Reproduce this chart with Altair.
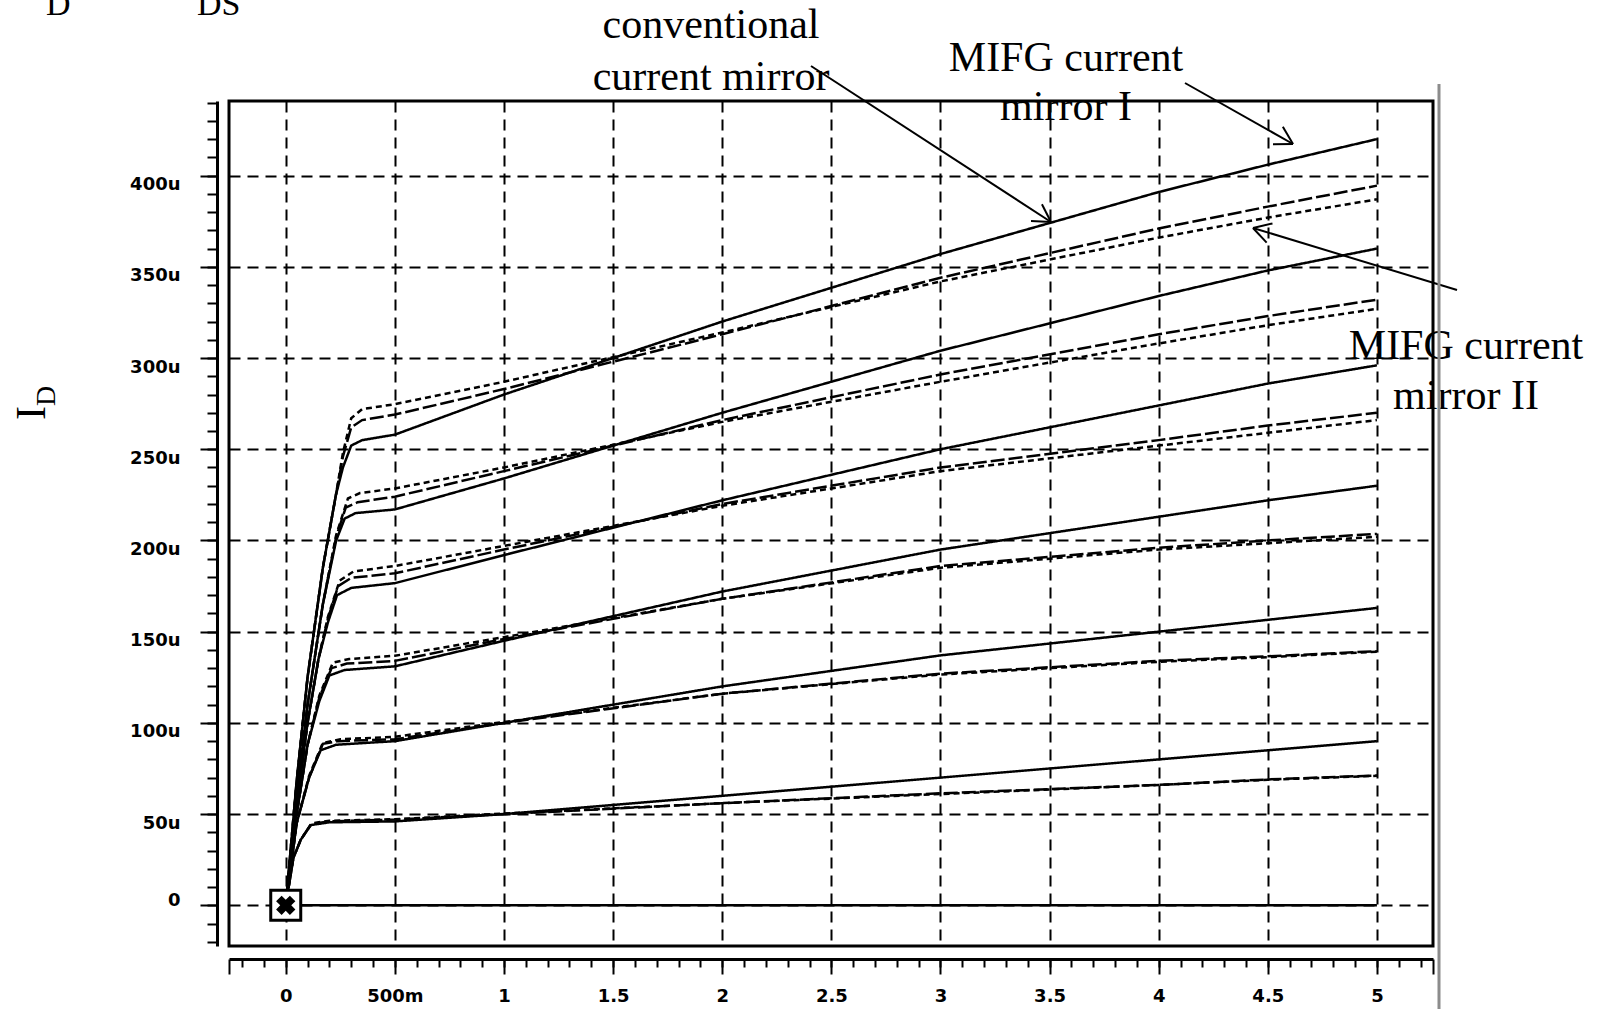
import math
import altair as alt
import pandas as pd

# ---------------- axis ticks ----------------
X_DOMAIN = [-0.26, 5.257]
Y_DOMAIN = [-22.3, 440.9]
X_TICK_VALUES = [0, 0.5, 1, 1.5, 2, 2.5, 3, 3.5, 4, 4.5, 5]
X_TICK_LABELS = ["0", "500m", "1", "1.5", "2", "2.5", "3", "3.5", "4", "4.5", "5"]
Y_TICK_VALUES = [0, 50, 100, 150, 200, 250, 300, 350, 400]
Y_TICK_LABELS = ["0", "50u", "100u", "150u", "200u", "250u", "300u", "350u", "400u"]
X_MINOR = [round(-0.2 + 0.1 * i, 2) for i in range(55)]
Y_MINOR = [-20 + 10 * i for i in range(47)]

# ---------------- curve data (VDS in V, ID in uA) ----------------
VDS_SAT = [0.5, 1, 2, 3, 4, 4.5, 5]

G1_TRI_X = [0, 0.05, 0.1, 0.17, 0.23]
G1_TRI_Y = [0, 68, 125, 185, 225]
G2_TRI_X = [0, 0.05, 0.1, 0.17]
G2_TRI_Y = [0, 60, 110, 165]
G3_TRI_X = [0, 0.05, 0.1, 0.15]
G3_TRI_Y = [0, 55, 100, 135]
G4_TRI_X = [0, 0.05, 0.1]
G4_TRI_Y = [0, 50, 88]
G5_TRI_X = [0, 0.05]
G5_TRI_Y = [0, 45]
G6_TRI_X = [0, 0.035]
G6_TRI_Y = [0, 26]

G1_MIFG1_KNEE_X = [0.262, 0.30, 0.35]
G1_MIFG1_KNEE_Y = [240, 252, 255]
G1_MIFG1_SAT = [258, 280, 320, 357, 391, 406, 420]
G1_CONV_KNEE_X = [0.262, 0.30, 0.35]
G1_CONV_KNEE_Y = [246, 262, 266]
G1_CONV_SAT = [269, 283, 313, 344, 371, 383, 394.5]
G1_MIFG2_KNEE_X = [0.262, 0.30, 0.35]
G1_MIFG2_KNEE_Y = [248, 267, 272]
G1_MIFG2_SAT = [274.7, 287, 314, 342, 366, 377, 387]

G2_MIFG1_KNEE_X = [0.231, 0.27, 0.32]
G2_MIFG1_KNEE_Y = [200, 212, 215]
G2_MIFG1_SAT = [217, 234, 270, 304, 334, 348, 360]
G2_CONV_KNEE_X = [0.231, 0.275, 0.33]
G2_CONV_KNEE_Y = [202, 218, 221]
G2_CONV_SAT = [224, 238, 266, 291, 313, 323, 332]
G2_MIFG2_KNEE_X = [0.231, 0.285, 0.34]
G2_MIFG2_KNEE_Y = [203, 223, 226]
G2_MIFG2_SAT = [228.5, 240, 265, 287, 308, 318, 327]

G3_MIFG1_KNEE_X = [0.193, 0.235, 0.30]
G3_MIFG1_KNEE_Y = [155, 170, 174]
G3_MIFG1_SAT = [176.6, 192, 222, 250, 274, 286, 296]
G3_CONV_KNEE_X = [0.193, 0.24, 0.30]
G3_CONV_KNEE_Y = [157, 175, 179.5]
G3_CONV_SAT = [182, 195, 220, 240, 255, 263, 270]
G3_MIFG2_KNEE_X = [0.193, 0.247, 0.31]
G3_MIFG2_KNEE_Y = [158, 178, 183]
G3_MIFG2_SAT = [186, 197, 219, 238, 252, 259, 266]

G4_MIFG1_KNEE_X = [0.154, 0.20, 0.27]
G4_MIFG1_KNEE_Y = [112, 126, 129]
G4_MIFG1_SAT = [131, 145, 172, 195, 213, 222, 230]
G4_CONV_KNEE_X = [0.154, 0.21, 0.28]
G4_CONV_KNEE_Y = [114, 130, 132.5]
G4_CONV_SAT = [134, 146, 168, 186, 196, 200, 203.6]
G4_MIFG2_KNEE_X = [0.154, 0.216, 0.29]
G4_MIFG2_KNEE_Y = [115, 133, 135]
G4_MIFG2_SAT = [136.8, 147, 168, 185, 195, 198.5, 202]

G5_MIFG1_KNEE_X = [0.107, 0.16, 0.23]
G5_MIFG1_KNEE_Y = [70, 85, 88]
G5_MIFG1_SAT = [90, 100, 120, 137, 150, 156.5, 163]
G5_CONV_KNEE_X = [0.107, 0.17, 0.24]
G5_CONV_KNEE_Y = [70, 88.5, 90]
G5_CONV_SAT = [91, 100, 116, 127, 134, 136.5, 139.3]
G5_MIFG2_KNEE_X = [0.107, 0.17, 0.25]
G5_MIFG2_KNEE_Y = [71, 89, 91]
G5_MIFG2_SAT = [92.4, 100.5, 116, 126.5, 133.5, 136, 139]

G6_MIFG1_KNEE_X = [0.069, 0.115, 0.20]
G6_MIFG1_KNEE_Y = [36, 44, 45.5]
G6_MIFG1_SAT = [46, 50, 60, 70, 80, 85, 90]
G6_CONV_KNEE_X = [0.069, 0.115, 0.20]
G6_CONV_KNEE_Y = [36, 44.5, 46]
G6_CONV_SAT = [47, 50, 56, 61.4, 66, 69, 71.2]
G6_MIFG2_KNEE_X = [0.069, 0.12, 0.20]
G6_MIFG2_KNEE_Y = [36, 45, 46.3]
G6_MIFG2_SAT = [47.2, 50.3, 56, 61, 66, 68.8, 71]

ZERO_X = [0, 5]
ZERO_Y = [0, 0]

MARKER_X = [0]
MARKER_Y = [0]

# ---------------- annotations (pixel positions relative to plot area) ----------------
ANNOT_TEXT = ["conventional", "current mirror", "MIFG current", "mirror I", "MIFG current", "mirror II"]
ANNOT_PX = [482, 482, 837, 837, 1237, 1237]
ANNOT_PY = [-63, -11, -30, 19, 258, 308]
ARROW_TAIL = [(582, -35), (956, -18), (1228, 189)]
ARROW_TIP = [(822, 121), (1064, 43), (1024, 127)]

PLOT_LEFT, PLOT_TOP = 229, 101
PLOT_W, PLOT_H = 1204, 845

# ---------------- build table ----------------
rows = []
def add_curve(cid, style, xs, ys):
    for xv, yv in zip(xs, ys):
        rows.append({"curve": cid, "style": style, "vds": xv, "id": yv})

groups = [
    ("G1", G1_TRI_X, G1_TRI_Y,
     [(G1_MIFG1_KNEE_X, G1_MIFG1_KNEE_Y, G1_MIFG1_SAT, "solid"),
      (G1_CONV_KNEE_X, G1_CONV_KNEE_Y, G1_CONV_SAT, "dash"),
      (G1_MIFG2_KNEE_X, G1_MIFG2_KNEE_Y, G1_MIFG2_SAT, "short")]),
    ("G2", G2_TRI_X, G2_TRI_Y,
     [(G2_MIFG1_KNEE_X, G2_MIFG1_KNEE_Y, G2_MIFG1_SAT, "solid"),
      (G2_CONV_KNEE_X, G2_CONV_KNEE_Y, G2_CONV_SAT, "dash"),
      (G2_MIFG2_KNEE_X, G2_MIFG2_KNEE_Y, G2_MIFG2_SAT, "short")]),
    ("G3", G3_TRI_X, G3_TRI_Y,
     [(G3_MIFG1_KNEE_X, G3_MIFG1_KNEE_Y, G3_MIFG1_SAT, "solid"),
      (G3_CONV_KNEE_X, G3_CONV_KNEE_Y, G3_CONV_SAT, "dash"),
      (G3_MIFG2_KNEE_X, G3_MIFG2_KNEE_Y, G3_MIFG2_SAT, "short")]),
    ("G4", G4_TRI_X, G4_TRI_Y,
     [(G4_MIFG1_KNEE_X, G4_MIFG1_KNEE_Y, G4_MIFG1_SAT, "solid"),
      (G4_CONV_KNEE_X, G4_CONV_KNEE_Y, G4_CONV_SAT, "dash"),
      (G4_MIFG2_KNEE_X, G4_MIFG2_KNEE_Y, G4_MIFG2_SAT, "short")]),
    ("G5", G5_TRI_X, G5_TRI_Y,
     [(G5_MIFG1_KNEE_X, G5_MIFG1_KNEE_Y, G5_MIFG1_SAT, "solid"),
      (G5_CONV_KNEE_X, G5_CONV_KNEE_Y, G5_CONV_SAT, "dash"),
      (G5_MIFG2_KNEE_X, G5_MIFG2_KNEE_Y, G5_MIFG2_SAT, "short")]),
    ("G6", G6_TRI_X, G6_TRI_Y,
     [(G6_MIFG1_KNEE_X, G6_MIFG1_KNEE_Y, G6_MIFG1_SAT, "solid"),
      (G6_CONV_KNEE_X, G6_CONV_KNEE_Y, G6_CONV_SAT, "dash"),
      (G6_MIFG2_KNEE_X, G6_MIFG2_KNEE_Y, G6_MIFG2_SAT, "short")]),
]
for gname, tx, ty, curves in groups:
    for kx, ky, sat, style in curves:
        add_curve(f"{gname}-{style}", style, list(tx) + list(kx) + VDS_SAT, list(ty) + list(ky) + list(sat))
add_curve("zero", "solid", ZERO_X, ZERO_Y)
df = pd.DataFrame(rows)


def label_expr(values, labels):
    expr = "''"
    for v, l in reversed(list(zip(values, labels))):
        expr = f"abs(datum.value - ({v})) < 1e-6 ? '{l}' : ({expr})"
    return expr


LABEL_FONT = "DejaVu Sans"
x_scale = alt.Scale(domain=X_DOMAIN, nice=False, zero=False)
y_scale = alt.Scale(domain=Y_DOMAIN, nice=False, zero=False)

x_major = alt.Axis(
    values=[X_DOMAIN[0]] + X_TICK_VALUES + [X_DOMAIN[1]], orient="bottom", offset=13,
    domainColor="black", domainWidth=3, tickColor="black", tickWidth=2, tickSize=15,
    labelExpr=label_expr(X_TICK_VALUES, X_TICK_LABELS), labelFont=LABEL_FONT,
    labelFontSize=18, labelFontWeight="bold", labelColor="black", labelPadding=13,
    labelBaseline="top", labelFlush=False, labelOverlap=False,
    grid=True, gridColor="black", gridDash=[11, 7], gridWidth=2,
    gridOpacity={"condition": {"test": "datum.value < -0.01 || datum.value > 5.01", "value": 0}, "value": 1},
    title=None,
)
y_major = alt.Axis(
    values=Y_TICK_VALUES, orient="left", offset=12,
    domainColor="black", domainWidth=3, tickColor="black", tickWidth=2, tickSize=17,
    labelExpr=label_expr(Y_TICK_VALUES, Y_TICK_LABELS), labelFont=LABEL_FONT,
    labelFontSize=18, labelFontWeight="bold", labelColor="black", labelPadding=20,
    labelBaseline={"condition": {"test": "datum.value == 0", "value": "alphabetic"}, "value": "top"},
    labelFlush=False, labelOverlap=False,
    grid=True, gridColor="black", gridDash=[11, 7], gridWidth=2,
    title=None,
)
x_minor = alt.Axis(values=X_MINOR, orient="bottom", offset=13, domain=False, labels=False,
                   tickColor="black", tickWidth=2, tickSize=8, grid=False, title=None)
y_minor = alt.Axis(values=Y_MINOR, orient="left", offset=12, domain=False, labels=False,
                   tickColor="black", tickWidth=2, tickSize=10, grid=False, title=None)

lines = alt.Chart(df).mark_line(strokeWidth=2.5, color="black").encode(
    x=alt.X("vds:Q", scale=x_scale, axis=x_major),
    y=alt.Y("id:Q", scale=y_scale, axis=y_major),
    detail="curve:N",
    strokeDash=alt.StrokeDash("style:N", scale=alt.Scale(domain=["solid", "dash", "short"],
                                                         range=[[1, 0], [14, 4], [6, 4]]), legend=None),
)
minor = alt.Chart(df).mark_line(opacity=0).encode(
    x=alt.X("vds:Q", scale=x_scale, axis=x_minor),
    y=alt.Y("id:Q", scale=y_scale, axis=y_minor),
    detail="curve:N",
)
mdf = pd.DataFrame({"vds": MARKER_X, "id": MARKER_Y})
marker_box = alt.Chart(mdf).mark_point(shape="square", size=900, filled=True, fill="white",
                                       stroke="black", strokeWidth=3, opacity=1).encode(
    x=alt.X("vds:Q", scale=x_scale, axis=None), y=alt.Y("id:Q", scale=y_scale, axis=None))
marker_x = alt.Chart(mdf).mark_point(shape="cross", angle=45, size=380, filled=True,
                                     color="black", opacity=1).encode(
    x=alt.X("vds:Q", scale=x_scale, axis=None), y=alt.Y("id:Q", scale=y_scale, axis=None))

one = pd.DataFrame({"k": [0]})
extra = []
for t, px, py in zip(ANNOT_TEXT, ANNOT_PX, ANNOT_PY):
    extra.append(alt.Chart(one).mark_text(font="Liberation Serif", fontSize=42, color="black",
                                          align="center", baseline="alphabetic").encode(
        x=alt.value(px), y=alt.value(py), text=alt.value(t)))

for (tx, ty), (hx, hy) in zip(ARROW_TAIL, ARROW_TIP):
    extra.append(alt.Chart(one).mark_rule(color="black", strokeWidth=2).encode(
        x=alt.value(tx), y=alt.value(ty), x2=alt.value(hx), y2=alt.value(hy)))
    ang = math.atan2(ty - hy, tx - hx)
    for d in (-math.pi / 6, math.pi / 6):
        ex = hx + 20 * math.cos(ang + d)
        ey = hy + 20 * math.sin(ang + d)
        extra.append(alt.Chart(one).mark_rule(color="black", strokeWidth=2).encode(
            x=alt.value(hx), y=alt.value(hy), x2=alt.value(ex), y2=alt.value(ey)))

# right gray border line
extra.append(alt.Chart(one).mark_rule(color="#8c8c8c", strokeWidth=3).encode(
    x=alt.value(1210), y=alt.value(-17), y2=alt.value(908)))

# y-axis title I_D (rotated)
extra.append(alt.Chart(one).mark_text(font="Liberation Serif", fontSize=42, color="black", angle=270,
                                      align="center", baseline="alphabetic").encode(
    x=alt.value(-184), y=alt.value(312), text=alt.value("I")))
extra.append(alt.Chart(one).mark_text(font="Liberation Serif", fontSize=28, color="black", angle=270,
                                      align="center", baseline="alphabetic").encode(
    x=alt.value(-174), y=alt.value(295), text=alt.value("D")))

# heading "I_D vs. V_DS", cut off at the top edge as in the reference
extra.append(alt.Chart(one).mark_text(font="Liberation Serif", fontSize=48, color="black",
                                      align="right", baseline="alphabetic").encode(
    x=alt.value(-184), y=alt.value(-104), text=alt.value("I")))
extra.append(alt.Chart(one).mark_text(font="Liberation Serif", fontSize=48, color="black",
                                      align="right", baseline="alphabetic").encode(
    x=alt.value(-32), y=alt.value(-104), text=alt.value("vs. V")))
extra.append(alt.Chart(one).mark_text(font="Liberation Serif", fontSize=34, color="black",
                                      align="left", baseline="alphabetic").encode(
    x=alt.value(-183), y=alt.value(-86), text=alt.value("D")))
extra.append(alt.Chart(one).mark_text(font="Liberation Serif", fontSize=34, color="black",
                                      align="left", baseline="alphabetic").encode(
    x=alt.value(-32), y=alt.value(-86), text=alt.value("DS")))

chart = alt.layer(lines, minor, marker_box, marker_x, *extra).resolve_axis(
    x="independent", y="independent"
).properties(
    width=PLOT_W, height=PLOT_H,
    padding={"left": PLOT_LEFT, "top": PLOT_TOP, "right": 1600 - PLOT_LEFT - PLOT_W,
             "bottom": 1009 - PLOT_TOP - PLOT_H},
    autosize=alt.AutoSizeParams(type="none"),
    background="white",
).configure_view(stroke="black", strokeWidth=3)

chart.save("out.html", embed_options={"renderer": "svg", "actions": False})
